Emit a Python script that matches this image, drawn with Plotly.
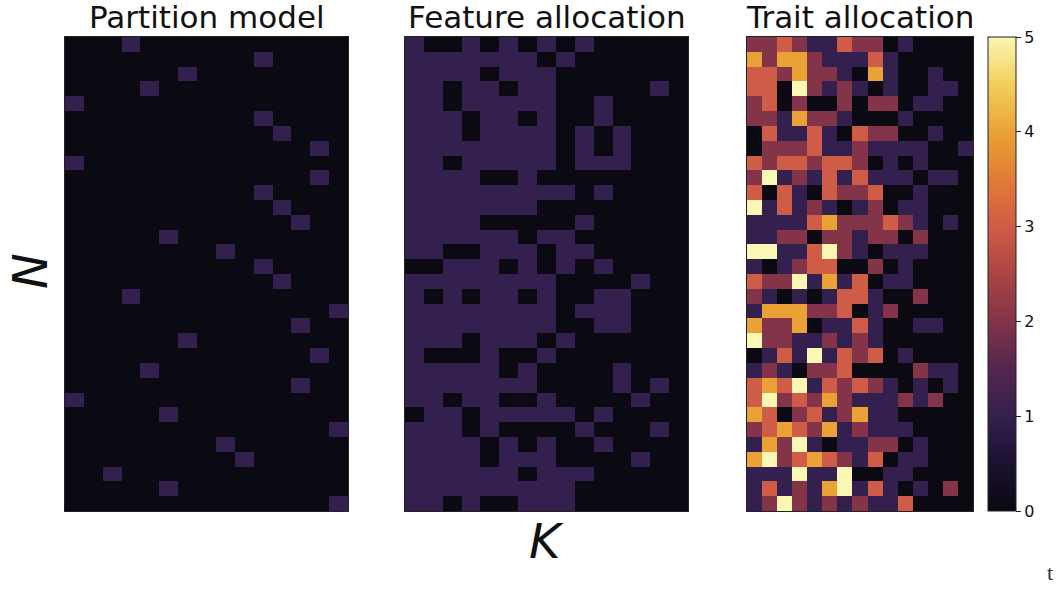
import plotly.graph_objects as go

W, H = 1064, 590

n_rows = 32
n_cols = 15
row_ids = list(range(n_rows))
col_ids = list(range(n_cols))

# Partition model: column (block) assigned to each row
partition_assign = [3, 10, 6, 4, 0, 10, 11, 13, 0, 13, 10, 11, 12, 5, 8, 10,
                    11, 3, 14, 12, 6, 13, 4, 12, 0, 5, 14, 8, 9, 2, 5, 14]

# Feature allocation: binary matrix
feature = [
    [1,0,0,1,0,1,0,1,0,1,0,0,0,0,0],
    [1,1,1,1,1,1,1,0,1,0,0,0,0,0,0],
    [1,1,1,1,0,1,1,1,0,0,0,0,0,0,0],
    [1,1,0,1,1,0,1,1,0,0,0,0,0,1,0],
    [1,1,0,1,1,1,1,1,0,0,1,0,0,0,0],
    [1,1,1,0,1,1,0,1,0,0,1,0,0,0,0],
    [1,1,1,0,1,1,1,1,0,1,0,1,0,0,0],
    [1,1,1,1,1,1,1,1,0,1,0,1,0,0,0],
    [1,1,0,1,1,1,1,1,0,1,1,1,0,0,0],
    [1,1,1,1,0,0,1,0,0,0,0,0,0,0,0],
    [1,1,1,1,1,1,1,1,1,0,1,0,0,0,0],
    [1,1,1,1,1,1,1,0,0,0,0,0,0,0,0],
    [1,1,1,1,0,0,0,0,0,1,0,0,0,0,0],
    [1,1,1,1,1,1,0,1,1,0,0,0,0,0,0],
    [1,1,0,0,1,1,1,0,1,1,0,0,0,0,0],
    [0,0,1,1,1,0,1,0,1,0,1,0,0,0,0],
    [1,1,1,1,1,1,1,1,0,0,0,0,1,0,0],
    [1,0,1,0,1,1,0,1,0,0,1,1,0,0,0],
    [1,1,1,1,1,1,1,1,0,1,1,1,0,0,0],
    [1,1,1,1,1,1,1,1,0,0,1,1,0,0,0],
    [1,1,1,0,1,1,1,0,1,0,0,0,0,0,0],
    [1,0,0,0,1,0,0,1,0,0,0,0,0,0,0],
    [1,1,1,1,1,0,1,0,0,0,0,1,0,0,0],
    [1,1,1,1,1,1,1,0,0,0,0,1,0,1,0],
    [1,1,0,1,1,0,0,1,0,0,0,0,1,0,0],
    [0,1,1,0,1,1,1,1,1,0,1,0,0,0,0],
    [1,1,1,0,1,0,0,0,0,1,0,0,0,1,0],
    [1,1,1,1,0,1,0,1,0,0,1,0,0,0,0],
    [1,1,1,1,0,1,1,1,0,0,0,0,1,0,0],
    [1,1,1,1,1,1,0,1,1,1,0,0,0,0,0],
    [1,1,1,1,1,1,1,1,1,0,0,0,0,0,0],
    [1,1,0,1,0,0,1,1,1,0,0,0,0,0,0],
]

# Trait allocation: counts 0..5
trait = [
    [2,2,3,2,1,1,3,2,2,0,1,0,0,0,0],
    [4,2,4,4,2,1,1,1,3,1,0,0,0,0,0],
    [3,3,2,4,2,2,1,0,4,1,0,0,1,0,0],
    [3,3,0,5,2,1,2,1,0,1,0,0,1,1,0],
    [2,3,0,2,0,0,2,0,2,2,0,1,1,0,0],
    [2,2,1,4,2,2,1,0,0,0,1,0,0,0,0],
    [0,3,1,1,3,1,0,3,2,2,0,0,1,0,0],
    [0,2,2,2,3,1,1,2,1,1,1,1,0,0,1],
    [3,2,3,3,2,3,3,2,0,1,0,1,0,0,0],
    [2,5,1,2,1,3,1,3,1,1,1,0,1,1,0],
    [3,0,3,1,0,3,2,2,3,0,0,1,0,0,0],
    [5,1,3,1,2,1,0,1,2,0,1,1,0,0,0],
    [1,1,1,1,3,4,2,2,2,3,2,1,0,1,0],
    [1,1,2,2,0,2,2,1,2,2,0,2,0,0,0],
    [5,5,1,1,3,5,2,1,0,1,1,1,0,0,0],
    [1,0,1,2,3,3,0,0,2,0,1,0,0,0,0],
    [3,2,2,5,1,4,1,3,0,1,1,0,0,0,0],
    [2,1,0,1,0,1,3,3,1,0,0,2,0,0,0],
    [1,4,4,4,2,2,3,0,1,2,0,0,0,0,0],
    [4,2,2,4,0,1,1,3,1,0,0,1,1,0,0],
    [5,2,2,1,1,2,1,2,1,0,0,0,0,0,0],
    [0,1,3,1,5,1,3,2,3,0,1,0,0,0,0],
    [1,2,1,0,2,2,3,0,0,0,0,2,1,1,0],
    [3,4,3,5,1,3,2,3,2,1,0,1,0,1,0],
    [3,5,2,3,2,4,2,1,1,1,2,1,2,0,0],
    [4,3,0,2,3,1,2,4,1,1,0,0,0,0,0],
    [2,3,4,3,2,4,1,2,1,1,1,0,0,0,0],
    [1,4,2,5,1,0,1,1,2,2,0,1,0,0,0],
    [4,5,2,3,4,3,2,1,3,0,1,1,0,0,0],
    [1,1,1,5,1,1,5,0,0,1,1,0,0,0,0],
    [1,3,1,2,1,4,5,1,3,1,0,1,0,2,0],
    [1,2,5,2,1,2,1,2,1,1,3,0,0,0,0],
]

titles = ["Partition model", "Feature allocation", "Trait allocation"]
cbar_ticks = [0, 1, 2, 3, 4, 5]

partition = [[1 if c == a else 0 for c in col_ids] for a in partition_assign]

# muted inferno-like scale (as in the scanned figure)
colorscale = [
    [0.0, "#0b0911"],
    [0.1, "#1b1130"],
    [0.2, "#33204e"],
    [0.3, "#53264f"],
    [0.4, "#833449"],
    [0.5, "#ab4442"],
    [0.6, "#cf5c46"],
    [0.7, "#e17c36"],
    [0.8, "#eaa236"],
    [0.9, "#f2cf5c"],
    [1.0, "#faf7b4"],
]

fig = go.Figure()
mats = [partition, feature, trait]
axes = [("x", "y"), ("x2", "y2"), ("x3", "y3")]
for z, (xa, ya) in zip(mats, axes):
    fig.add_trace(go.Heatmap(z=z, x=col_ids, y=row_ids, coloraxis="coloraxis",
                             xaxis=xa, yaxis=ya, hoverinfo="skip"))

top, bottom = 37, 511
ydom = [1 - bottom / H, 1 - top / H]
xdoms = [(65, 348), (405, 688), (747, 973)]

ax_common = dict(showticklabels=False, ticks="", showgrid=False, zeroline=False,
                 showline=True, linecolor="#222222", linewidth=1, mirror=True)
layout = dict(
    width=W, height=H, margin=dict(l=0, r=0, t=0, b=0),
    paper_bgcolor="white", plot_bgcolor="white", showlegend=False,
    coloraxis=dict(
        colorscale=colorscale, cmin=0, cmax=5,
        colorbar=dict(
            x=988 / W, xanchor="left", xpad=0, ypad=0,
            y=1 - (top + bottom) / 2 / H, yanchor="middle",
            len=(bottom - top) / H, lenmode="fraction",
            thickness=28, thicknessmode="pixels",
            outlinewidth=1, outlinecolor="#222222",
            tickvals=cbar_ticks, ticktext=[str(t) for t in cbar_ticks],
            ticks="outside", ticklen=5, tickcolor="#222222",
            tickfont=dict(family="DejaVu Sans", size=16, color="#111111"),
        ),
    ),
)
for i, (x0, x1) in enumerate(xdoms):
    sfx = "" if i == 0 else str(i + 1)
    layout["xaxis" + sfx] = dict(domain=[x0 / W, x1 / W], anchor="y" + sfx,
                                 range=[-0.5, n_cols - 0.5], **ax_common)
    layout["yaxis" + sfx] = dict(domain=ydom, anchor="x" + sfx,
                                 range=[n_rows - 0.5, -0.5], **ax_common)
fig.update_layout(**layout)

for (x0, x1), t in zip(xdoms, titles):
    fig.add_annotation(x=(x0 + x1) / 2 / W, y=1 - 17 / H, xref="paper", yref="paper",
                       text=t, showarrow=False, xanchor="center", yanchor="middle",
                       font=dict(family="DejaVu Sans", size=31, color="#111111"))

fig.add_annotation(x=30 / W, y=1 - 271 / H, xref="paper", yref="paper",
                   text="<i>N</i>", showarrow=False, textangle=-90,
                   xanchor="center", yanchor="middle",
                   font=dict(family="DejaVu Sans", size=48, color="#111111"))
fig.add_annotation(x=546 / W, y=1 - 541 / H, xref="paper", yref="paper",
                   text="<i>K</i>", showarrow=False,
                   xanchor="center", yanchor="middle",
                   font=dict(family="DejaVu Sans", size=48, color="#111111"))
fig.add_annotation(x=1050 / W, y=1 - 572 / H, xref="paper", yref="paper",
                   text="t", showarrow=False, xanchor="center", yanchor="middle",
                   font=dict(family="Liberation Serif", size=22, color="#333333"))

fig.write_html("out.html",
               config={"displayModeBar": False},
               post_script="document.body.style.margin='0px';"
                           "document.body.style.overflow='hidden';")
